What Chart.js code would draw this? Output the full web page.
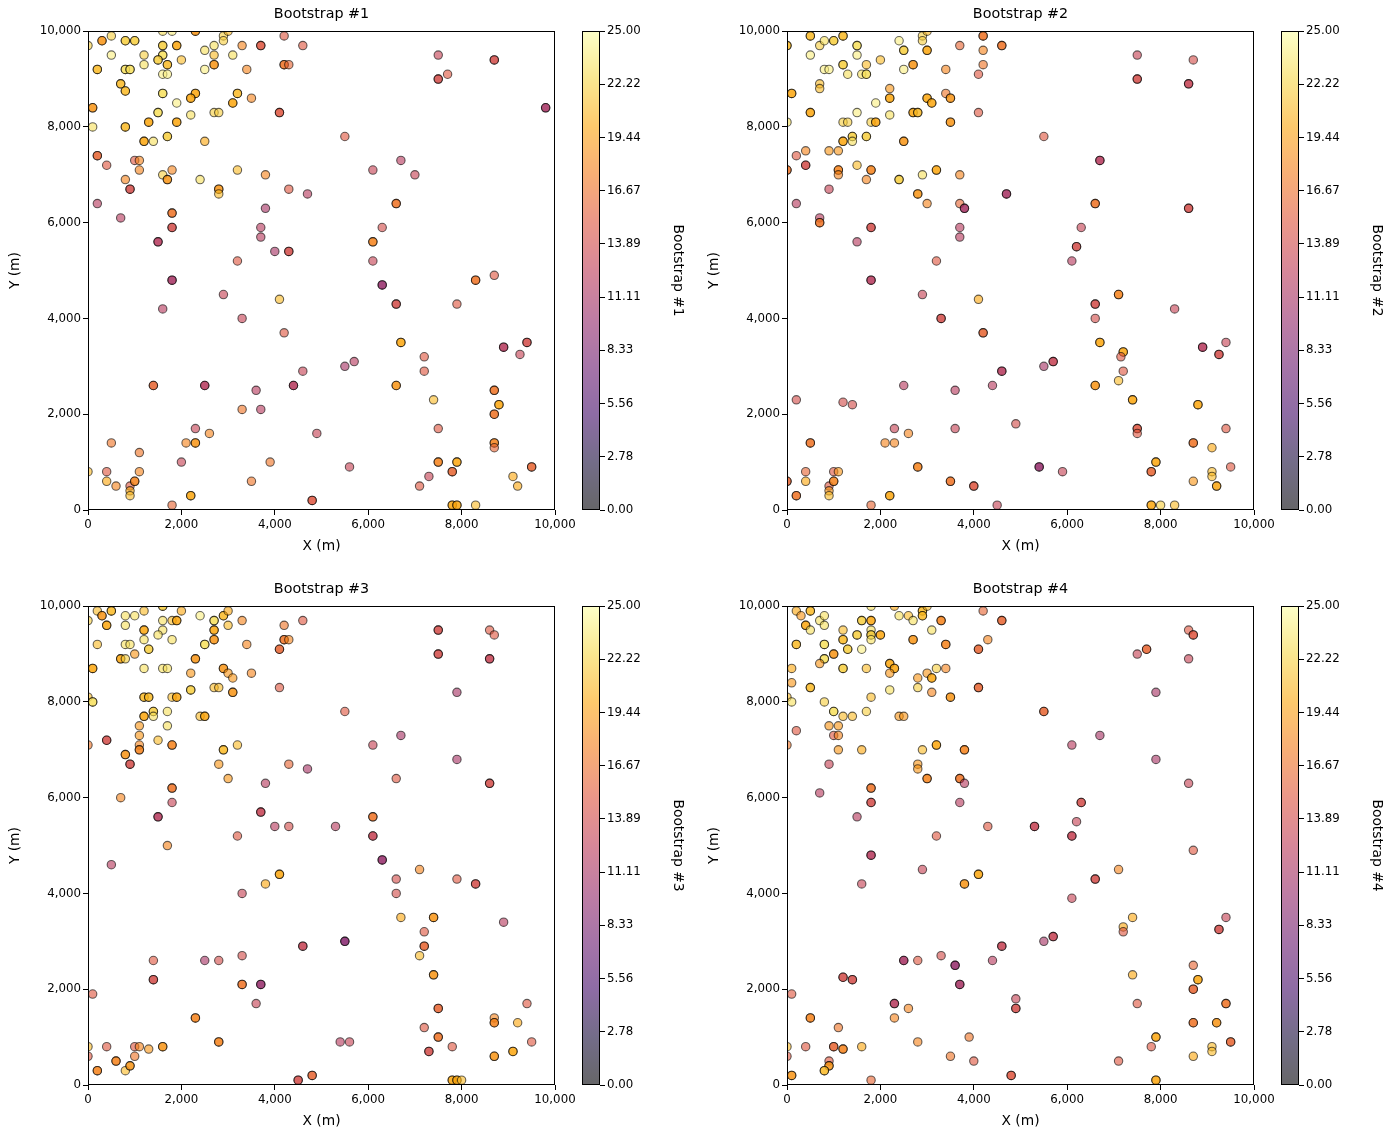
<!DOCTYPE html>
<html>
<head>
<meta charset="utf-8">
<title>Bootstrap realizations</title>
<script src="https://cdn.jsdelivr.net/npm/chart.js@4.4.0/dist/chart.umd.min.js"></script>
<style>
    body { margin: 0; background: #fff; width: 1392px; height: 1139px; position: relative; overflow: hidden; }
    canvas { position: absolute; }
</style>
</head>
<body>
<canvas id="p1" width="580" height="560" style="left:0px;top:0px"></canvas>
<canvas id="c1" width="115" height="560" style="left:575px;top:0px"></canvas>
<canvas id="p2" width="580" height="560" style="left:699px;top:0px"></canvas>
<canvas id="c2" width="115" height="560" style="left:1274px;top:0px"></canvas>
<canvas id="p3" width="580" height="560" style="left:0px;top:575px"></canvas>
<canvas id="c3" width="115" height="560" style="left:575px;top:575px"></canvas>
<canvas id="p4" width="580" height="560" style="left:699px;top:575px"></canvas>
<canvas id="c4" width="115" height="560" style="left:1274px;top:575px"></canvas>
<script>
// each entry: [x (m), y (m), value]; repeated entries are samples drawn twice
const boot1 = [
    [0,9700,22],[500,9900,22],[300,9800,19],[300,9800,19],[800,9800,22],[800,9800,22],[1000,9800,22],[1000,9800,22],
    [1600,10000,23],[1800,10000,24],[2300,10000,19],[2300,10000,19],[2900,9900,22],[3000,10000,21],[2900,9800,22],
    [4200,9900,15],[3700,9700,15],[3700,9700,15],[4600,9700,15],[3300,9700,18],[2700,9700,23],[2500,9600,23],
    [2700,9500,21],[3100,9500,23],[1900,9700,20],[1900,9700,20],[1600,9700,22],[1600,9700,22],[500,9500,24],
    [1200,9500,22],[1600,9500,23],[1600,9500,23],[1500,9400,22],[1500,9400,22],[2000,9400,21],[2700,9300,19],
    [2700,9300,19],[4200,9300,17],[4200,9300,17],[4300,9300,16],[200,9200,21],[200,9200,21],[800,9200,23],
    [800,9200,23],[900,9200,23],[900,9200,23],[1200,9300,23],[1700,9300,21],[1700,9300,21],[1600,9100,24],
    [1700,9100,24],[2500,9200,24],[3400,9200,18],[7500,9500,13],[8700,9400,14],[8700,9400,14],[7500,9000,14],
    [7500,9000,14],[7700,9100,15],[9800,8400,11],[9800,8400,11],[700,8900,21],[700,8900,21],[800,8750,21],
    [800,8750,21],[1600,8700,23],[1600,8700,23],[2300,8700,20],[2300,8700,20],[2200,8600,20],[2200,8600,20],
    [3200,8700,21],[3200,8700,21],[3500,8600,18],[3100,8500,20],[3100,8500,20],[1900,8500,24],[100,8400,19],
    [100,8400,19],[1500,8300,23],[1500,8300,23],[2700,8300,22],[2800,8300,22],[4100,8300,15],[4100,8300,15],
    [2200,8250,23],[1300,8100,20],[1300,8100,20],[1900,8100,20],[1900,8100,20],[100,8000,23],[800,8000,21],
    [800,8000,21],[1700,7800,22],[1700,7800,22],[1200,7700,20],[1200,7700,20],[1400,7700,23],[2500,7700,20],
    [5500,7800,15],[200,7400,16],[200,7400,16],[400,7200,15],[1000,7300,15],[1100,7300,18],[1100,7100,18],
    [800,6900,18],[900,6700,14],[900,6700,14],[1600,7000,22],[1700,6900,19],[1700,6900,19],[1800,7100,18],
    [2400,6900,23],[2800,6700,19],[2800,6700,19],[2800,6600,21],[3200,7100,21],[3800,7000,18],[4300,6700,15],
    [4700,6600,12],[6100,7100,13],[6700,7300,12],[7000,7000,13],
    [200,6400,12],[700,6100,12],[1800,6200,17],[1800,6200,17],[1800,5900,14],[1800,5900,14],[1500,5600,12],
    [1500,5600,12],[1800,4800,11],[1800,4800,11],[1600,4200,12],[3800,6300,11],[3700,5900,12],[3700,5700,12],
    [4000,5400,11],[4300,5400,14],[4300,5400,14],[3200,5200,15],[2900,4500,13],[4100,4400,21],[3300,4000,13],
    [4200,3700,15],[6600,6400,17],[6600,6400,17],[6300,5900,14],[6100,5600,18],[6100,5600,18],[6100,5200,13],
    [6300,4700,10],[6300,4700,10],[6600,4300,14],[6600,4300,14],[8300,4800,17],[8300,4800,17],[8700,4900,15],
    [7900,4300,15],[6700,3500,20],[6700,3500,20],[8900,3400,12],[8900,3400,12],[9400,3500,14],[9400,3500,14],
    [9250,3250,13],
    [7200,3200,15],[7200,2900,15],[4600,2900,13],[5500,3000,11],[5700,3100,12],[1400,2600,16],[1400,2600,16],
    [2500,2600,12],[2500,2600,12],[4400,2600,12],[4400,2600,12],[6600,2600,19],[6600,2600,19],[3600,2500,12],
    [3300,2100,17],[3700,2100,12],[7400,2300,21],[8700,2500,17],[8700,2500,17],[8800,2200,20],[8800,2200,20],
    [8700,2000,17],[8700,2000,17],[2300,1700,13],[2600,1600,18],[4900,1600,13],[7500,1700,15],[500,1400,17],
    [1100,1200,17],[2100,1400,18],[2300,1400,19],[2300,1400,19],[2000,1000,13],[3900,1000,17],[5600,900,13],
    [8700,1400,18],[8700,1400,18],[8700,1300,16],[7500,1000,18],[7500,1000,18],[7900,1000,20],[7900,1000,20],
    [7800,800,16],[7800,800,16],[7300,700,13],[7100,500,15],[9500,900,16],[9500,900,16],[9100,700,20],
    [9200,500,20],[7800,100,20],[7800,100,20],[7900,100,20],[7900,100,20],[8300,100,21],[4800,200,15],
    [4800,200,15],[2200,300,20],[2200,300,20],[1800,100,16],[0,800,21],[400,800,15],[400,600,20],[600,500,18],
    [900,500,15],[900,400,20],[900,300,21],[1000,600,18],[1000,600,18],[1100,800,18],[3500,600,17]
];

const boot2 = [
    [0,9700,21],[0,9700,21],[500,9900,21],[500,9900,21],[700,9700,22],[800,9800,23],[1000,9800,22],[1000,9800,22],
    [1200,9900,21],[1200,9900,21],[1500,9700,23],[1500,9700,23],[500,9500,24],[1500,9500,24],[2400,9800,24],
    [2500,9600,22],[2500,9600,22],[2900,9900,22],[3000,10000,21],[2900,9800,22],[3000,9600,20],[3000,9600,20],
    [2000,9400,21],[2700,9300,19],[2700,9300,19],[3700,9700,16],[4200,9900,17],[4200,9900,17],[4600,9700,17],
    [4600,9700,17],[4200,9600,18],[4200,9300,17],[4100,9100,15],[3400,9200,18],[800,9200,24],[900,9200,24],
    [1200,9300,22],[1200,9300,22],[1300,9100,23],[1700,9300,21],[1600,9100,23],[1700,9100,23],[1700,9100,23],
    [2500,9200,24],[7500,9500,13],[8700,9400,14],[7500,9000,14],[7500,9000,14],[8600,8900,13],[8600,8900,13],
    [100,8700,20],[100,8700,20],[700,8900,21],[700,8800,21],[2200,8800,19],[2200,8600,20],[2200,8600,20],
    [3000,8600,20],[3000,8600,20],[3100,8500,20],[3100,8500,20],[3400,8700,17],[3500,8600,19],[3500,8600,19],
    [1900,8500,24],[500,8300,20],[500,8300,20],[1500,8300,24],[2700,8300,20],[2700,8300,20],[2800,8300,21],
    [2800,8300,21],[4100,8300,15],[2200,8250,23],[0,8100,23],[1200,8100,22],[1300,8100,22],[1800,8100,22],
    [1900,8100,20],[1900,8100,20],[3500,8100,19],[3500,8100,19],[1400,7800,22],[1400,7800,22],[1400,7700,23],
    [1700,7800,22],[1700,7800,22],[1200,7700,20],[1200,7700,20],[2500,7700,19],[2500,7700,19],[5500,7800,15],
    [200,7400,15],[400,7500,18],[900,7500,19],[1100,7500,19],[0,7100,17],[0,7100,17],[400,7200,14],[400,7200,14],
    [1100,7100,18],[1100,7100,18],[1100,7000,18],[1500,7200,21],[1800,7100,18],[1800,7100,18],[1700,6900,18],
    [2400,6900,22],[2400,6900,22],[2900,7000,23],[3200,7100,20],[3200,7100,20],[3700,7000,18],[6700,7300,12],
    [6700,7300,12],[900,6700,13],[2800,6600,19],[2800,6600,19],[4700,6600,11],[4700,6600,11],
    [200,6400,12],[3000,6400,18],[3700,6400,16],[3800,6300,11],[3800,6300,11],[6600,6400,17],[6600,6400,17],
    [8600,6300,14],[8600,6300,14],[700,6100,12],[700,6000,17],[700,6000,17],[1800,5900,14],[1800,5900,14],
    [1500,5600,12],[3700,5900,12],[3700,5700,12],[6300,5900,13],[6200,5500,14],[6200,5500,14],[6100,5200,12],
    [3200,5200,15],[1800,4800,12],[1800,4800,12],[2900,4500,13],[4100,4400,20],[7100,4500,18],[7100,4500,18],
    [6600,4300,14],[6600,4300,14],[8300,4200,13],[3300,4000,14],[3300,4000,14],[6600,4000,14],[4200,3700,16],
    [4200,3700,16],[6700,3500,20],[6700,3500,20],[8900,3400,12],[8900,3400,12],[9400,3500,13],[9250,3250,14],
    [9250,3250,14],
    [7200,3300,20],[7200,3300,20],[7150,3200,15],[7200,2900,15],[7100,2700,21],[6600,2600,19],[6600,2600,19],
    [7400,2300,20],[7400,2300,20],[8800,2200,20],[8800,2200,20],[7500,1700,15],[7500,1700,15],[7500,1600,15],
    [8700,1400,17],[8700,1400,17],[9400,1700,15],[9100,1300,20],[7900,1000,20],[7900,1000,20],[7800,800,16],
    [7800,800,16],[8700,600,19],[9100,800,21],[9100,700,21],[9200,500,20],[9200,500,20],[9500,900,15],
    [7800,100,20],[7800,100,20],[8000,100,22],[8300,100,21],[4600,2900,12],[4600,2900,12],[5500,3000,11],
    [5700,3100,13],[5700,3100,13],[2500,2600,12],[3600,2500,12],[4400,2600,12],[200,2300,14],[1200,2250,14],
    [1400,2200,14],[2300,1700,13],[2600,1600,18],[3600,1700,13],[4900,1800,14],[500,1400,17],[500,1400,17],
    [2100,1400,18],[2300,1400,18],[2800,900,18],[2800,900,18],[5400,900,10],[5400,900,10],[5900,800,13],
    [3500,600,17],[3500,600,17],[4000,500,15],[4000,500,15],[4500,100,13],[0,600,16],[0,600,16],[200,300,17],
    [200,300,17],[400,800,16],[400,600,20],[900,500,15],[900,400,19],[900,300,21],[1000,800,15],[1100,800,19],
    [1000,600,18],[1000,600,18],[1800,100,16],[2200,300,20],[2200,300,20]
];

const boot3 = [
    [0,9700,22],[200,9900,21],[300,9800,19],[300,9800,19],[500,9900,21],[500,9900,21],[400,9600,20],[400,9600,20],
    [800,9800,23],[1000,9800,23],[800,9600,23],[1200,9900,21],[1600,10000,22],[1600,10000,22],[1600,9700,23],
    [1800,9700,21],[1900,9700,20],[1900,9700,20],[1200,9500,20],[1200,9500,20],[1600,9500,23],[1500,9400,23],
    [2000,9900,20],[2400,9800,24],[2700,9700,23],[2700,9700,23],[2900,9800,21],[2900,9800,21],[3000,9900,20],
    [2700,9500,20],[2700,9500,20],[3000,9600,21],[3300,9700,18],[2700,9300,19],[2700,9300,19],[1800,9300,23],
    [4200,9600,17],[4600,9700,15],[4200,9300,17],[4200,9300,17],[4300,9300,18],[4100,9100,16],[4100,9100,16],
    [3400,9200,18],[2500,9200,23],[2500,9200,23],[200,9200,21],[800,9200,23],[900,9200,23],[1200,9300,23],
    [1300,9100,22],[1300,9100,22],[7500,9500,14],[7500,9500,14],[8600,9500,15],[8700,9400,15],[7500,9000,14],
    [7500,9000,14],[8600,8900,13],[8600,8900,13],[700,8900,20],[700,8900,20],[800,8900,22],[1000,9000,19],
    [1200,8700,23],[1600,8700,23],[1700,8700,23],[2300,8900,19],[2300,8900,19],[2900,8700,19],[2900,8700,19],
    [3000,8600,19],[3100,8500,19],[3500,8600,18],[2200,8600,19],[100,8700,20],[100,8700,20],[4100,8300,15],
    [2700,8300,21],[2800,8300,21],[2200,8250,22],[2200,8250,22],[3100,8200,19],[3100,8200,19],[0,8100,21],
    [100,8000,23],[100,8000,23],[1200,8100,21],[1200,8100,21],[1300,8100,21],[1300,8100,21],[1800,8100,21],
    [1900,8100,20],[1900,8100,20],[1400,7800,22],[1400,7800,22],[1400,7700,23],[1700,7800,23],[1200,7700,20],
    [1200,7700,20],[2400,7700,21],[2500,7700,20],[2500,7700,20],[1700,7500,23],[1100,7500,19],[5500,7800,15],
    [7900,8200,11],[400,7200,14],[400,7200,14],[1100,7300,19],[1100,7100,18],[1100,7000,18],[1100,7000,18],
    [0,7100,17],[1500,7200,21],[1800,7100,18],[1800,7100,18],[800,6900,19],[800,6900,19],[900,6700,14],
    [900,6700,14],[2900,7000,21],[2900,7000,21],[3200,7100,21],[2800,6700,19],[4300,6700,16],[4700,6600,11],
    [6100,7100,13],[6700,7300,11],[7900,6800,11],
    [3000,6400,19],[3800,6300,12],[6600,6400,15],[8600,6300,14],[8600,6300,14],[700,6000,18],[1800,6200,17],
    [1800,6200,17],[1800,5900,13],[1500,5600,12],[1500,5600,12],[3700,5700,13],[3700,5700,13],[4000,5400,12],
    [4300,5400,14],[5300,5400,12],[6100,5600,17],[6100,5600,17],[6100,5200,13],[6100,5200,13],[3200,5200,15],
    [1700,5000,18],[500,4600,12],[6300,4700,10],[6300,4700,10],[7100,4500,18],[6600,4300,14],[7900,4300,15],
    [8300,4200,14],[8300,4200,14],[6600,4000,14],[4100,4400,20],[4100,4400,20],[3800,4200,20],[3300,4000,13],
    [6700,3500,20],[7400,3500,19],[7400,3500,19],[8900,3400,12],
    [7200,3200,15],[7200,2900,16],[7200,2900,16],[7100,2700,21],[7400,2300,19],[7400,2300,19],[4600,2900,13],
    [4600,2900,13],[5500,3000,9],[5500,3000,9],[1400,2600,15],[1400,2200,14],[1400,2200,14],[2500,2600,11],
    [2800,2600,14],[3300,2700,14],[3300,2100,17],[3300,2100,17],[3700,2100,10],[3700,2100,10],[3600,1700,13],
    [100,1900,15],[2300,1400,18],[2300,1400,18],[2800,900,18],[2800,900,18],[5400,900,12],[5600,900,13],
    [7500,1600,16],[7500,1600,16],[7200,1200,15],[7500,1000,17],[7500,1000,17],[7300,700,14],[7300,700,14],
    [7800,800,15],[8700,1400,18],[8700,1300,18],[8700,1300,18],[9400,1700,15],[9200,1300,20],[9500,900,15],
    [8700,600,19],[8700,600,19],[9100,700,20],[9100,700,20],[7800,100,20],[7800,100,20],[7900,100,20],
    [7900,100,20],[8000,100,21],[4500,100,14],[4500,100,14],[4800,200,16],[4800,200,16],[0,800,21],[0,600,15],
    [200,300,18],[200,300,18],[400,800,15],[600,500,18],[600,500,18],[800,300,21],[900,400,19],[900,400,19],
    [1000,800,15],[1100,800,18],[1300,750,19],[1000,600,17],[1600,800,19],[1600,800,19]
];

const boot4 = [
    [200,9900,20],[300,9800,19],[500,9900,21],[500,9900,21],[400,9600,20],[400,9600,20],[500,9500,23],
    [700,9700,23],[800,9800,23],[800,9600,23],[1800,10000,23],[1600,9700,22],[1600,9700,22],[1800,9700,20],
    [1800,9700,20],[1200,9500,21],[1500,9400,22],[1500,9400,22],[1800,9500,23],[1800,9400,22],[1800,9400,22],
    [1800,9300,23],[2000,9400,20],[2000,9400,20],[2300,10000,20],[2400,9800,23],[2600,9800,21],[2700,9700,23],
    [2900,9900,21],[2900,9900,21],[3000,10000,21],[2900,9800,21],[2900,9800,21],[3300,9700,18],[3300,9700,18],
    [4200,9900,16],[4600,9700,16],[4600,9700,16],[3100,9500,23],[2700,9300,19],[2700,9300,19],[3400,9200,18],
    [3400,9200,18],[4300,9300,18],[4100,9100,16],[4100,9100,16],[200,9200,21],[200,9200,21],[800,9200,23],
    [800,9200,23],[1200,9300,21],[1200,9300,21],[1300,9100,22],[1300,9100,22],[1600,9100,24],[800,8900,23],
    [800,8900,23],[1000,9000,19],[1000,9000,19],[700,8800,19],[1200,8700,22],[1200,8700,22],[1700,8700,21],
    [2200,8800,20],[2200,8800,20],[2300,8700,20],[2300,8700,20],[2200,8600,19],[3000,8600,19],[3100,8500,20],
    [3100,8500,20],[3200,8700,22],[3400,8700,18],[2800,8500,19],[2800,8300,22],[3100,8200,18],[3500,8100,19],
    [3500,8100,19],[100,8700,20],[100,8400,19],[500,8300,21],[500,8300,21],[0,8100,21],[100,8000,23],
    [800,8000,22],[1800,8100,21],[2200,8250,23],[1000,7800,23],[1000,7800,23],[1200,7700,21],[1400,7700,21],
    [1700,7800,22],[2400,7700,19],[2500,7700,19],[200,7400,15],[900,7500,19],[1100,7500,19],[1000,7300,15],
    [1100,7300,18],[0,7100,17],[1100,7000,19],[1600,7000,20],[2900,7000,21],[3200,7100,20],[3200,7100,20],
    [3800,7000,18],[3800,7000,18],[4100,8300,16],[4100,8300,16],[5500,7800,16],[5500,7800,16],[8600,9500,15],
    [8700,9400,15],[8700,9400,15],[7700,9100,16],[7700,9100,16],[7500,9000,13],[8600,8900,13],[7900,8200,11],
    [6100,7100,12],[6700,7300,11],[7900,6800,11],[900,6700,13],[2800,6700,19],[2800,6600,19],
    [3000,6400,18],[3000,6400,18],[3700,6400,17],[3700,6400,17],[3800,6300,12],[8600,6300,13],[700,6100,12],
    [1800,6200,17],[1800,6200,17],[1800,5900,14],[1800,5900,14],[1500,5600,12],[3700,5900,12],[6300,5900,14],
    [6300,5900,14],[6200,5500,13],[6100,5200,13],[6100,5200,13],[5300,5400,13],[5300,5400,13],[4300,5400,15],
    [3200,5200,15],[1800,4800,12],[1800,4800,12],[1600,4200,13],[2900,4500,13],[4100,4400,20],[4100,4400,20],
    [3800,4200,19],[3800,4200,19],[7100,4500,18],[6600,4300,14],[6600,4300,14],[8700,4900,15],[6100,3900,13],
    [7400,3500,20],[9400,3500,13],
    [7200,3300,20],[7200,3200,15],[7400,2300,20],[9250,3250,14],[9250,3250,14],[5700,3100,13],[5700,3100,13],
    [5500,3000,11],[4600,2900,13],[4600,2900,13],[2500,2600,11],[2500,2600,11],[2800,2600,15],[3300,2700,14],
    [3600,2500,10],[3600,2500,10],[4400,2600,12],[3700,2100,11],[3700,2100,11],[1200,2250,14],[1200,2250,14],
    [1400,2200,14],[1400,2200,14],[100,1900,15],[2300,1700,12],[2300,1700,12],[2600,1600,18],[2300,1400,18],
    [500,1400,18],[500,1400,18],[1100,1200,17],[4900,1800,13],[4900,1600,14],[4900,1600,14],[3900,1000,17],
    [2800,900,18],[3500,600,17],[4000,500,15],[4800,200,15],[4800,200,15],[1800,100,16],[0,800,21],[0,600,15],
    [100,200,19],[100,200,19],[400,800,15],[1000,800,16],[1000,800,16],[1200,750,18],[1200,750,18],[1600,800,20],
    [900,500,15],[900,400,19],[900,400,19],[800,300,21],[800,300,21],[8700,2500,16],[8800,2200,20],[8800,2200,20],
    [8700,2000,16],[8700,2000,16],[7500,1700,15],[9400,1700,17],[9400,1700,17],[8700,1300,17],[8700,1300,17],
    [9200,1300,19],[9200,1300,19],[7900,1000,20],[7900,1000,20],[7800,800,15],[7100,500,15],[8700,600,20],
    [9100,800,21],[9100,700,21],[9500,900,16],[9500,900,16],[7900,100,20],[7900,100,20]
];

const titles = ['Bootstrap #1', 'Bootstrap #2', 'Bootstrap #3', 'Bootstrap #4'];
const cbTickLabels = ['0.00', '2.78', '5.56', '8.33', '11.11', '13.89', '16.67', '19.44', '22.22', '25.00'];
const vMin = 0;
const vMax = 25;
const xTitle = 'X (m)';
const yTitle = 'Y (m)';

const FONT = 'DejaVu Sans';
const ALPHA = 0.6;

// inferno colormap, 11 evenly spaced samples
const inferno = [
    [0,0,4],[22,11,57],[66,10,104],[106,23,110],[147,38,103],[188,55,84],
    [221,81,58],[243,120,25],[252,165,10],[246,215,70],[252,255,164]
];

function infernoColor(t, a) {
    t = Math.min(1, Math.max(0, t));
    const s = t * (inferno.length - 1);
    const i = Math.min(inferno.length - 2, Math.floor(s));
    const f = s - i;
    const c = inferno[i].map((v, k) => Math.round(v + (inferno[i + 1][k] - v) * f));
    return `rgba(${c[0]},${c[1]},${c[2]},${a})`;
}

// black outline on all four sides like matplotlib spines
const frame = {
    id: 'frame',
    afterDatasetsDraw(chart) {
        const { ctx, chartArea: a } = chart;
        ctx.save();
        ctx.strokeStyle = '#000';
        ctx.lineWidth = 1;
        const l = Math.round(a.left) + 0.5, t = Math.round(a.top) + 0.5;
        const r = Math.round(a.right) - 0.5, b = Math.round(a.bottom) - 0.5;
        ctx.strokeRect(l, t, r - l, b - t);
        ctx.restore();
    }
};

const tickFont = { family: FONT, size: 11.8 };
const labelFont = { family: FONT, size: 13.8 };

function makePanel(id, pts, title) {
    return new Chart(document.getElementById(id), {
        type: 'scatter',
        data: {
            datasets: [{
                data: pts.map(p => ({ x: p[0], y: p[1] })),
                backgroundColor: pts.map(p => infernoColor((p[2] - vMin) / (vMax - vMin), ALPHA)),
                borderColor: 'rgba(0,0,0,0.6)',
                borderWidth: 1.1,
                pointRadius: 4.2,
                pointHoverRadius: 4.2,
                clip: 0
            }]
        },
        options: {
            responsive: false,
            animation: false,
            devicePixelRatio: 1,
            layout: { padding: { left: 0, right: 25, top: 0, bottom: 0 } },
            plugins: {
                legend: { display: false },
                tooltip: { enabled: false },
                title: {
                    display: true, text: title, color: '#000', fullSize: false,
                    font: { family: FONT, size: 14.3, weight: 'normal' },
                    padding: { top: 6, bottom: 8 }
                }
            },
            scales: {
                x: {
                    type: 'linear', min: 0, max: 10000,
                    ticks: { stepSize: 2000, color: '#000', font: tickFont, padding: 3, maxRotation: 0 },
                    grid: { drawOnChartArea: false, drawTicks: true, tickLength: 5, tickColor: '#000' },
                    border: { display: false },
                    title: { display: true, text: xTitle, color: '#000', font: labelFont, padding: { top: 2, bottom: 5 } },
                    afterFit: s => { s.height = 50; }
                },
                y: {
                    type: 'linear', min: 0, max: 10000,
                    ticks: { stepSize: 2000, color: '#000', font: tickFont, padding: 2 },
                    grid: { drawOnChartArea: false, drawTicks: true, tickLength: 5, tickColor: '#000' },
                    border: { display: false },
                    title: { display: true, text: yTitle, color: '#000', font: labelFont, padding: { top: 7, bottom: 4 } },
                    afterFit: s => { s.width = 88; }
                }
            }
        },
        plugins: [frame]
    });
}

function makeColorbar(id, title) {
    return new Chart(document.getElementById(id), {
        type: 'bar',
        data: {
            labels: [''],
            datasets: [{
                data: [[vMin, vMax]],
                backgroundColor: ctx => {
                    const a = ctx.chart.chartArea;
                    if (!a) return 'rgba(0,0,0,0)';
                    const g = ctx.chart.ctx.createLinearGradient(0, a.bottom, 0, a.top);
                    for (let i = 0; i <= 40; i++) g.addColorStop(i / 40, infernoColor(i / 40, ALPHA));
                    return g;
                },
                borderWidth: 0,
                barPercentage: 1,
                categoryPercentage: 1
            }]
        },
        options: {
            responsive: false,
            animation: false,
            devicePixelRatio: 1,
            layout: { padding: { left: 7, right: 0, top: 31, bottom: 50 } },
            plugins: { legend: { display: false }, tooltip: { enabled: false } },
            scales: {
                x: { display: false },
                y: {
                    position: 'right', min: vMin, max: vMax,
                    afterBuildTicks: s => { s.ticks = cbTickLabels.map(v => ({ value: parseFloat(v) })); },
                    ticks: { color: '#000', font: tickFont, padding: 2, callback: v => v.toFixed(2) },
                    grid: { drawOnChartArea: false, drawTicks: true, tickLength: 5, tickColor: '#000' },
                    border: { display: false },
                    title: { display: true, text: title, color: '#000', font: labelFont, padding: { top: 4, bottom: 3 } },
                    afterFit: s => { s.width = 90; }
                }
            }
        },
        plugins: [frame]
    });
}

const sets = [boot1, boot2, boot3, boot4];
sets.forEach((pts, i) => {
    makePanel('p' + (i + 1), pts, titles[i]);
    makeColorbar('c' + (i + 1), titles[i]);
});
</script>
</body>
</html>
